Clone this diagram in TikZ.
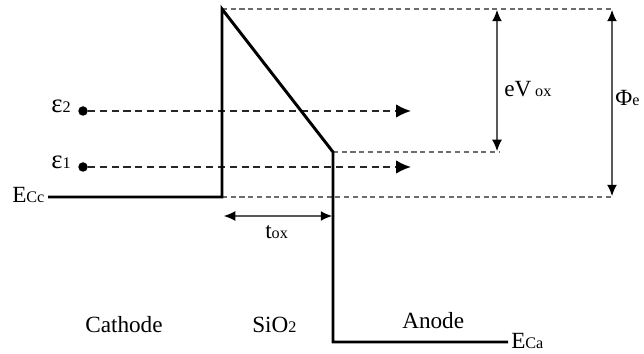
\documentclass[tikz,border=0pt]{standalone}
\usepackage{fontspec}
\setmainfont{Liberation Serif}
\usetikzlibrary{arrows.meta}
\tikzset{>=latex}
\def\px{0.025}
\newcommand{\lo}[1]{{\fontsize{11.5}{13}\selectfont #1}}

\tikzset{
  band/.style={line width=2.1pt, black, line join=miter},
  level/.style={line width=1pt, gray!85!black, dash pattern=on 3.6pt off 2.6pt},
  hop/.style={line width=1.3pt, black!85, dash pattern=on 5pt off 3.4pt, -{Latex[length=10.5pt,width=9.5pt,black]}},
  gap/.style={line width=0.8pt, black!65, {Latex[length=8pt,width=7pt,black]}-{Latex[length=8pt,width=7pt,black]}},
  dot/.style={circle, fill=black, inner sep=0pt, minimum size=9.5*\px cm},
  lbl/.style={font=\fontsize{16.5}{19}\selectfont, inner sep=0pt},
}

\begin{document}
\begin{tikzpicture}[x=\px cm, y=-\px cm]
\useasboundingbox (0,0) rectangle (644,354);

% band edges
\coordinate (cL) at (48,197);
\coordinate (cB) at (222,197);
\coordinate (cT) at (222,9);
\coordinate (oB) at (333,152);
\coordinate (aT) at (333,342);
\coordinate (aR) at (508,342);

% reference levels
\coordinate (topR) at (613,9);
\coordinate (midR) at (500,152);
\coordinate (botR) at (613,197);
\draw[level] (cT) -- (topR);
\draw[level] (oB) -- (midR);
\draw[level] (cB) -- (botR);

% electrons
\foreach \n/\y in {2/111, 1/167}{
    \node[dot] (e\n) at (83,\y) {};
    \coordinate (h\n) at (411,\y);
    \draw[hop] (e\n) -- (h\n);
    \node[lbl, anchor=base west] (eps\n) at (51,\y+2) {{\fontsize{19}{20}\selectfont ε}\lo{\n}};
}

\draw[band] (cL) -- (cB) -- (cT) -- (oB) -- (aT) -- (aR);

% dimensions
\coordinate (vT) at (497,10);
\coordinate (vB) at (497,151);
\coordinate (fT) at (612,10);
\coordinate (fB) at (612,196);
\coordinate (tL) at (224,216);
\coordinate (tR) at (332,216);
\draw[gap] (vT) -- (vB);
\draw[gap] (fT) -- (fB);
\draw[gap] (tL) -- (tR);

% labels
\node[lbl, anchor=base west] (ecc) at (12,202) {E\lo{Cc}};
\node[lbl, anchor=base west] (eca) at (511,348) {E\lo{Ca}};
\node[lbl, anchor=base west] (vox) at (504,97) {eV\,\lo{ox}};
\node[lbl, anchor=base west] (phi) at (615,106) {Φ\lo{e}};
\node[lbl, anchor=base west] (tox) at (265,238) {t\lo{ox}};
\node[lbl, anchor=base west] (cath) at (85,332) {Cathode};
\node[lbl, anchor=base west] (sio) at (252,332) {SiO\lo{2}};
\node[lbl, anchor=base west] (anod) at (402,328) {Anode};

\end{tikzpicture}
\end{document}
